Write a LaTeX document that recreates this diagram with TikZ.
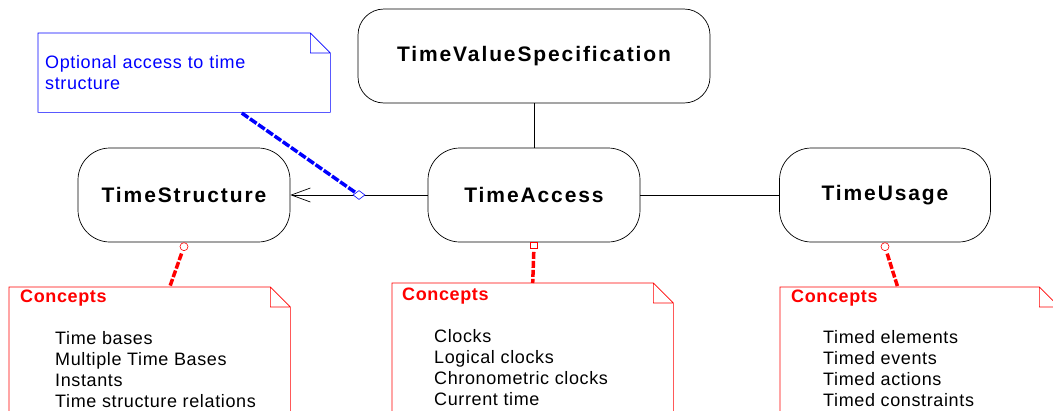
\documentclass[tikz,border=0pt]{standalone}
\usepackage{fontspec}
\setmainfont{Liberation Sans}[LetterSpace=3.5]
\newfontfamily\clsfont{Liberation Sans}[LetterSpace=9]
\usetikzlibrary{arrows.meta,shapes.geometric}

% outline of a note with a folded corner
\newcommand\notefold[2]{%
	\draw[#2] ([xshift=-20pt]#1.north east) -- (#1.north west) -- (#1.south west)
		-- (#1.south east) -- ([yshift=-20pt]#1.north east) -- cycle
		([xshift=-20pt]#1.north east) |- ([yshift=-20pt]#1.north east);}

\begin{document}
\begin{tikzpicture}[x=1pt, y=-1pt, >=latex,
	cls/.style={draw, rounded corners=32pt, line width=0.7pt, minimum height=94pt,
		font=\clsfont\fontsize{21}{25}\selectfont\bfseries},
	notebox/.style={inner sep=0pt, minimum height=140pt, anchor=north west},
	notehead/.style={anchor=north west, inner sep=0pt, red,
		font=\fontsize{18}{21}\selectfont\bfseries},
	notelist/.style={anchor=north west, inner sep=0pt, align=left,
		font=\fontsize{18}{21}\selectfont},
	redlink/.style={red, line width=3.5pt, dash pattern=on 7pt off 2pt, shorten <=3pt},
	redend/.style={draw=red, fill=white, line width=0.6pt, inner sep=0pt, anchor=north}]
	\useasboundingbox (0,0) rectangle (1053,410);
	%classes
	\node[cls, rounded corners=26pt, minimum width=352pt] (tvs) at (534,56) {TimeValueSpecification};
	\node[cls, minimum width=212pt] (tstruct) at (184,195) {TimeStructure};
	\node[cls, minimum width=212pt] (taccess) at (534,195) {TimeAccess};
	\node[cls, minimum width=211pt] (tusage) at (885,195) {TimeUsage};
	%links
	\draw[line width=0.7pt] (tvs) -- (taccess);
	\draw[line width=0.7pt] (taccess) -- (tusage);
	\draw[line width=0.7pt, -{Straight Barb[length=19pt,width=14pt]}] (taccess) -- (tstruct)
		node[pos=0.5, diamond, draw=blue, fill=white, line width=0.6pt, inner sep=0pt,
			minimum width=12pt, minimum height=9pt] (agg) {};
	%optional access note
	\node[notebox, minimum width=292pt, minimum height=79pt] (optnote) at (38,33) {};
	\notefold{optnote}{blue, line width=0.6pt}
	\node[notelist, blue, text width=270pt] (opttxt) at (45,55)
		{Optional access to time\\structure};
	\draw[blue, line width=3.5pt, dash pattern=on 8pt off 2pt, shorten <=1pt] (agg) -- (optnote);
	%concept notes
	\node[notebox, minimum width=281pt] (cstruct) at (9,287) {};
	\notefold{cstruct}{red, line width=0.6pt}
	\node[notehead] (shead) at (20,290) {Concepts};
	\node[notelist] (slist) at (55,331)
		{Time bases\\Multiple Time Bases\\Instants\\Time structure relations};
	\node[notebox, minimum width=281pt] (caccess) at (392,283) {};
	\notefold{caccess}{red, line width=0.6pt}
	\node[notehead] (ahead) at (402,288) {Concepts};
	\node[notelist] (alist) at (434,329)
		{Clocks\\Logical clocks\\Chronometric clocks\\Current time};
	\node[notebox, minimum width=279pt] (cusage) at (780,287) {};
	\notefold{cusage}{red, line width=0.6pt}
	\node[notehead] (uhead) at (791,290) {Concepts};
	\node[notelist] (ulist) at (823,330)
		{Timed elements\\Timed events\\Timed actions\\Timed constraints};
	%note links
	\node[redend, circle, minimum size=8pt] (send) at (tstruct.south) {};
	\node[redend, rectangle, minimum width=7pt, minimum height=6pt] (aend) at (taccess.south) {};
	\node[redend, circle, minimum size=8pt] (uend) at (tusage.south) {};
	\draw[redlink] (send) -- ([xshift=20pt]cstruct.north);
	\draw[redlink] (aend) -- (caccess.north);
	\draw[redlink] (uend) -- ([xshift=-22pt]cusage.north);
\end{tikzpicture}
\end{document}
